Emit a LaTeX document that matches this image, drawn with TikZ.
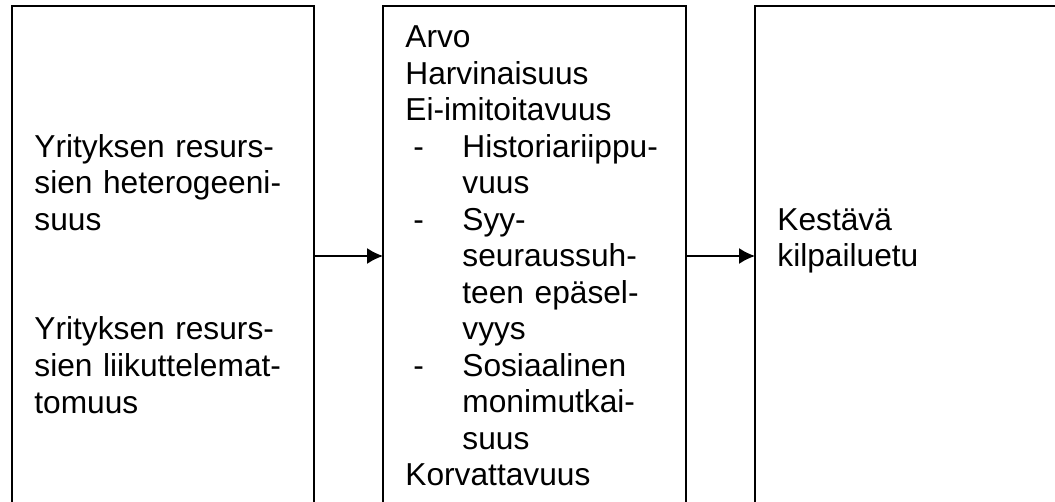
\documentclass[tikz,border=0pt]{standalone}
\usepackage{fontspec}
\setmainfont{Liberation Sans}
\usepackage{tikz}
\usetikzlibrary{arrows.meta,positioning}
\newcommand{\dashitem}{\makebox[28.5pt][l]{\hspace*{4pt}-}}
\newcommand{\dashcont}{\hspace*{28.5pt}}
\begin{document}
\begin{tikzpicture}[
  frame/.style={draw,line width=1pt,outer sep=0pt,minimum height=250pt,inner sep=0pt},
  body/.style={anchor=base west,inner sep=0pt,align=left,text width=#1,font=\fontsize{15.85pt}{18.25pt}\selectfont},
  body/.default=140pt,
  arrow/.style={-{Latex[length=8pt,width=8pt]},line width=0.8pt},
]
\useasboundingbox (0,0) rectangle (527.5pt,-251pt);
\clip (0,0) rectangle (527.5pt,-251pt);
\node[frame,minimum width=151pt,anchor=north west] (resources) at (6pt,-3pt) {};
\node[frame,minimum width=151.5pt,right=34.5pt of resources] (vrin) {};
\node[frame,minimum width=172.5pt,right=34.5pt of vrin] (advantage) {};
\node[body] (heterogeneity) at (17pt,-78.75pt) {Yrityksen resurs-\\sien heterogeeni-\\suus};
\node[body] (immobility) at (17pt,-170pt) {Yrityksen resurs-\\sien liikuttelemat-\\tomuus};
\node[body] (criteria) at (202.5pt,-24pt) {Arvo\\Harvinaisuus\\Ei-imitoitavuus\\
  \dashitem Historiariippu-\\\dashcont vuus\\
  \dashitem Syy-\\\dashcont seuraussuh-\\\dashcont teen epäsel-\\\dashcont vyys\\
  \dashitem Sosiaalinen\\\dashcont monimutkai-\\\dashcont suus\\
  Korvattavuus};
\node[body] (sustained) at (388.5pt,-115.25pt) {Kestävä\\kilpailuetu};
\draw[arrow] (resources) -- (vrin);
\draw[arrow] (vrin) -- (advantage);
\end{tikzpicture}
\end{document}
